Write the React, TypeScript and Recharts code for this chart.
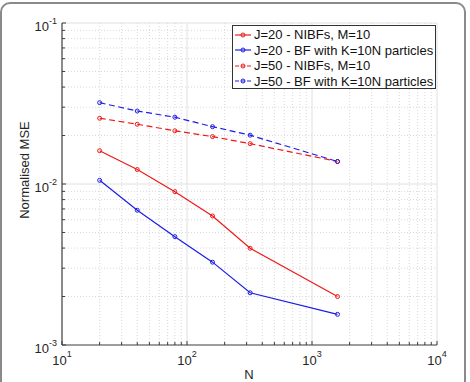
import { LineChart, Line, XAxis, YAxis, ReferenceLine } from 'recharts';

// Number of particles / samples N on the x axis
const nValues = [20, 40, 80, 160, 320, 1600];

// Normalised MSE for each configuration
const j20Nibf = [0.0161, 0.0123, 0.00896, 0.00633, 0.00399, 0.002];
const j20Bf = [0.01054, 0.00687, 0.00471, 0.00327, 0.00211, 0.00155];
const j50Nibf = [0.0256, 0.0235, 0.0214, 0.0197, 0.0178, 0.0138];
const j50Bf = [0.032, 0.0284, 0.026, 0.0227, 0.0201, 0.0138];

// decade exponents for the log axes
const xDecades = [1, 2, 3, 4];
const yDecades = [-3, -2, -1];

const seriesNames = [
  'J=20 - NIBFs, M=10',
  'J=20 - BF with K=10N particles',
  'J=50 - NIBFs, M=10',
  'J=50 - BF with K=10N particles'
];

const RED = '#f01818';
const BLUE = '#1c1ce8';
const DASH = '6 3.5';
const AXIS = '#3c3c3c';
const FONT = '"Liberation Sans", Arial, Helvetica, sans-serif';

const series = [
  { key: 'j20Nibf', name: seriesNames[0], color: RED, dash: undefined },
  { key: 'j20Bf', name: seriesNames[1], color: BLUE, dash: undefined },
  { key: 'j50Nibf', name: seriesNames[2], color: RED, dash: DASH },
  { key: 'j50Bf', name: seriesNames[3], color: BLUE, dash: DASH }
];

const data = nValues.map((n, i) => ({
  n,
  j20Nibf: j20Nibf[i],
  j20Bf: j20Bf[i],
  j50Nibf: j50Nibf[i],
  j50Bf: j50Bf[i]
}));

// every 1..9 multiple inside the decades, for minor ticks and grid
const logTicks = (decades: number[]) => {
  const out: number[] = [];
  decades.slice(0, -1).forEach(d => {
    for (let m = 1; m < 10; m++) out.push(m * Math.pow(10, d));
  });
  out.push(Math.pow(10, decades[decades.length - 1]));
  return out;
};

const xTicks = logTicks(xDecades);
const yTicks = logTicks(yDecades);

const isMajor = (v: number) => {
  const l = Math.log10(v);
  return Math.abs(l - Math.round(l)) < 1e-6;
};

const XTick = (props: any) => {
  const { x, y, payload } = props;
  const v = payload.value;
  const major = isMajor(v);
  return (
    <g>
      <line x1={x} x2={x} y1={y} y2={y - (major ? 4 : 3)} stroke={AXIS} />
      {major && (
        <text x={x} y={y + 20} textAnchor="middle" fill="#262626" fontSize={13} fontFamily={FONT}>
          <tspan>10</tspan>
          <tspan dy={-8} fontSize={9}>{Math.round(Math.log10(v))}</tspan>
        </text>
      )}
    </g>
  );
};

const YTick = (props: any) => {
  const { x, y, payload } = props;
  const v = payload.value;
  const major = isMajor(v);
  return (
    <g>
      <line x1={x} x2={x + (major ? 4 : 3)} y1={y} y2={y} stroke={AXIS} />
      {major && (
        <text x={x - 5} y={y + 8} textAnchor="end" fill="#262626" fontSize={13} fontFamily={FONT}>
          <tspan>10</tspan>
          <tspan dy={-7} fontSize={9}>{Math.round(Math.log10(v))}</tspan>
        </text>
      )}
    </g>
  );
};

// legend box in the upper right of the axes
const LegendBox = () => (
  <div
    style={{
      position: 'absolute',
      left: 232,
      top: 25,
      background: '#fff',
      border: '1px solid #333',
      width: 202,
      height: 62,
      fontFamily: FONT,
      fontSize: 13,
      color: '#111'
    }}
  >
    {series.map((s, i) => (
      <div key={s.key} style={{ height: 15.5, display: 'flex', alignItems: 'center', marginTop: i === 0 ? 1 : 0 }}>
        <svg width={20} height={10} style={{ marginLeft: 1 }}>
          <line x1={1} x2={17} y1={5} y2={5} stroke={s.color} strokeWidth={1.2} strokeDasharray={s.dash ? '4 2' : undefined} />
          <circle cx={9} cy={5} r={2} fill="none" stroke={s.color} />
        </svg>
        <span style={{ whiteSpace: 'nowrap' }}>{s.name}</span>
      </div>
    ))}
  </div>
);

export default function App() {
  return (
    <div style={{ position: 'absolute', left: 0, top: 0, width: 470, height: 382, overflow: 'hidden', background: '#fff' }}>
      <div
        style={{
          position: 'absolute',
          left: 0,
          top: 2,
          width: 462,
          height: 420,
          border: '2px solid #8a8a8a',
          borderRadius: 10
        }}
      />
      <LineChart
        width={470}
        height={382}
        data={data}
        margin={{ top: 23, right: 33, left: 0, bottom: 0 }}
        style={{ position: 'absolute', left: 0, top: 0 }}
      >
        {xTicks.slice(1).map(v => (
          <ReferenceLine
            key={`gx-${v}`}
            x={v}
            stroke={isMajor(v) ? '#e0e0e0' : '#d9d9d9'}
            strokeDasharray={isMajor(v) ? undefined : '1 2'}
          />
        ))}
        {yTicks.slice(1).map(v => (
          <ReferenceLine
            key={`gy-${v}`}
            y={v}
            stroke={isMajor(v) ? '#e0e0e0' : '#d9d9d9'}
            strokeDasharray={isMajor(v) ? undefined : '1 2'}
          />
        ))}
        <XAxis
          dataKey="n"
          type="number"
          scale="log"
          domain={[10, 10000]}
          ticks={xTicks}
          interval={0}
          height={37}
          tickSize={0}
          tickMargin={0}
          tickLine={false}
          tick={<XTick />}
          axisLine={{ stroke: AXIS, strokeWidth: 1.2 }}
          allowDataOverflow
        />
        <YAxis
          type="number"
          scale="log"
          domain={[0.001, 0.1]}
          ticks={yTicks}
          interval={0}
          width={62}
          tickSize={0}
          tickMargin={0}
          tickLine={false}
          tick={<YTick />}
          axisLine={{ stroke: AXIS, strokeWidth: 1.2 }}
          allowDataOverflow
        />
        {series.map(s => (
          <Line
            key={s.key}
            dataKey={s.key}
            name={s.name}
            stroke={s.color}
            strokeWidth={1.2}
            strokeDasharray={s.dash}
            dot={{ r: 2, fill: 'none', stroke: s.color, strokeWidth: 1, strokeDasharray: '' }}
            activeDot={false}
            isAnimationActive={false}
          />
        ))}
      </LineChart>
      <LegendBox />
      <svg width={470} height={382} style={{ position: 'absolute', left: 0, top: 0, pointerEvents: 'none' }}>
        <text
          x={24}
          y={170}
          transform="rotate(-90 24 170)"
          textAnchor="middle"
          dominantBaseline="central"
          fill="#262626"
          fontSize={13}
          fontFamily={FONT}
        >
          Normalised MSE
        </text>
        <text x={249} y={378.5} textAnchor="middle" fill="#262626" fontSize={13} fontFamily={FONT}>
          N
        </text>
      </svg>
    </div>
  );
}
